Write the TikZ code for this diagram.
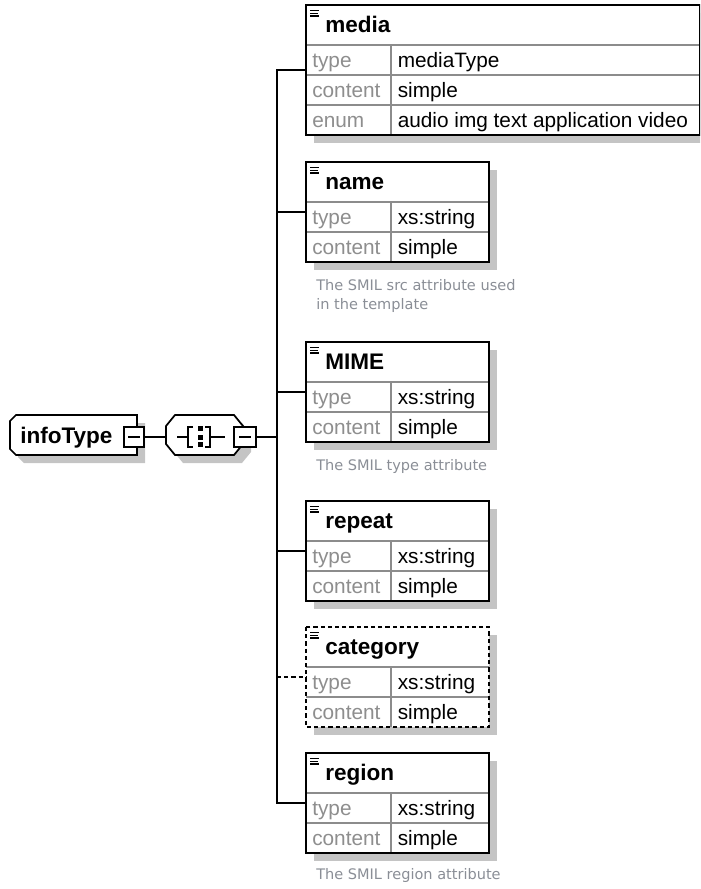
\documentclass[tikz,border=0pt]{standalone}
\usepackage{fontspec}
\setmainfont{Liberation Sans}
\newfontfamily\cmtfont{DejaVu Sans}
\definecolor{shadowc}{HTML}{C4C4C4}
\definecolor{labelc}{HTML}{8E8E8E}
\definecolor{rowline}{HTML}{8C8C8C}
\definecolor{cmtc}{HTML}{8A8E96}
\tikzset{
  hdr/.style={font=\fontsize{16.9}{18}\selectfont\bfseries, anchor=base west, inner sep=0pt},
  lbl/.style={font=\fontsize{15.6}{17}\selectfont, text=labelc, anchor=base west, inner sep=0pt},
  val/.style={font=\fontsize{15.6}{17}\selectfont, anchor=base west, inner sep=0pt},
  cmt/.style={font=\cmtfont\fontsize{10.9}{13.5}\selectfont, text=cmtc, anchor=base west, inner sep=0pt},
  frame/.style={draw=black, line width=1.3pt},
  conn/.style={line width=1.3pt},
  rowsep/.style={draw=rowline, line width=1pt},
  minusbox/.style={draw=black, fill=white, line width=1pt, inner sep=0pt, outer sep=0pt},
}
% #1 id, #2 top, #3 right, #4 number of rows, #5 title, #6 frame style
\newcommand{\ebox}[6]{%
  \pgfmathsetmacro\ebbot{#2+40+30*#4}%
  \fill[shadowc] (314,#2+8) rectangle (#3+8,\ebbot+8);
  \fill[white] (306,#2) rectangle (#3,\ebbot);
  \foreach \ri in {1,...,#4}{
    \draw[rowsep] (306,#2+10+30*\ri) -- (#3,#2+10+30*\ri);
  }
  \draw[rowsep] (391,#2+40) -- (391,\ebbot);
  \draw[frame,#6] (306,#2) rectangle (#3,\ebbot);
  \coordinate (#1) at (306,{(#2+\ebbot)/2});
  \node[hdr] (#1-title) at (325,#2+27.5) {#5};
  \draw[line width=1pt] (310,#2+5.7) -- (319,#2+5.7)
        (310,#2+8.4) -- (317.5,#2+8.4)
        (310,#2+11.1) -- (319,#2+11.1);
}
% #1 id, #2 box top, #3 row index, #4 label, #5 value
\newcommand{\erow}[5]{%
  \node[lbl] (#1-l#3) at (312,#2+40+30*#3+22) {#4};
  \node[val] (#1-v#3) at (397.5,#2+40+30*#3+22) {#5};
}
\begin{document}
\begin{tikzpicture}[x=0.75pt,y=-0.75pt]
\useasboundingbox (0,0) rectangle (700,889);
\clip (0,0) rectangle (700,889);

% infoType
\fill[shadowc] (24,423) -- (145,423) -- (145,463) -- (24,463) -- (18,457) -- (18,429) -- cycle;
\draw[frame, fill=white] (16,415) -- (137,415) -- (137,455) -- (16,455) -- (10,449) -- (10,421) -- cycle;
\node[hdr] (infotype) at (20,443) {infoType};
\node[minusbox, minimum width=15pt, minimum height=15pt] (im) at (134,437) {};
\draw[line width=0.9pt] (128,437) -- (140,437);

% sequence compositor
\fill[shadowc] (183,423) -- (242,423) -- (251,434) -- (251,452) -- (242,463) -- (183,463) -- (174,452) -- (174,434) -- cycle;
\draw[frame, fill=white] (175,415) -- (234,415) -- (243,426) -- (243,444) -- (234,455) -- (175,455) -- (166,444) -- (166,426) -- cycle;
\coordinate (seqL) at (166,437);
\draw[line width=1pt] (177,437) -- (188,437) (210,437) -- (225,437);
\draw[line width=1pt] (193,427) -- (188,427) -- (188,447) -- (193,447);
\draw[line width=1pt] (205,427) -- (210,427) -- (210,447) -- (205,447);
\fill (197.5,426) rectangle (202.5,431);
\fill (197.5,434.5) rectangle (202.5,439.5);
\fill (197.5,442) rectangle (202.5,447);
\node[minusbox, minimum width=16.5pt, minimum height=15pt] (sm) at (245,437) {};
\draw[line width=0.9pt] (239,437) -- (251,437);

\draw[conn] (im.east) -- (seqL);

% elements
\ebox{media}{5}{700}{3}{media}{}
\erow{media}{5}{0}{type}{mediaType}
\erow{media}{5}{1}{content}{simple}
\erow{media}{5}{2}{enum}{audio img text application video}

\ebox{name}{162}{489}{2}{name}{}
\erow{name}{162}{0}{type}{xs:string}
\erow{name}{162}{1}{content}{simple}
\node[cmt] (c1) at (316,290) {The SMIL src attribute used};
\node[cmt] (c2) at (316,309) {in the template};

\ebox{mime}{342}{489}{2}{MIME}{}
\erow{mime}{342}{0}{type}{xs:string}
\erow{mime}{342}{1}{content}{simple}
\node[cmt] (c3) at (316,470) {The SMIL type attribute};

\ebox{repeat}{501}{489}{2}{repeat}{}
\erow{repeat}{501}{0}{type}{xs:string}
\erow{repeat}{501}{1}{content}{simple}

\ebox{category}{627}{489}{2}{category}{dash pattern=on 3.2pt off 2.2pt}
\erow{category}{627}{0}{type}{xs:string}
\erow{category}{627}{1}{content}{simple}

\ebox{region}{753}{489}{2}{region}{}
\erow{region}{753}{0}{type}{xs:string}
\erow{region}{753}{1}{content}{simple}
\node[cmt] (c4) at (316,879) {The SMIL region attribute};

% trunk
\coordinate (tx) at (277,437);
\draw[conn] (sm.east) -- (sm -| tx);
\draw[conn] (media) -- (media -| tx) -- (region -| tx) -- (region);
\draw[conn] (name) -- (name -| tx);
\draw[conn] (mime) -- (mime -| tx);
\draw[conn] (repeat) -- (repeat -| tx);
\draw[conn, dash pattern=on 3.2pt off 2.2pt] (category -| tx) -- (category);
\end{tikzpicture}
\end{document}
